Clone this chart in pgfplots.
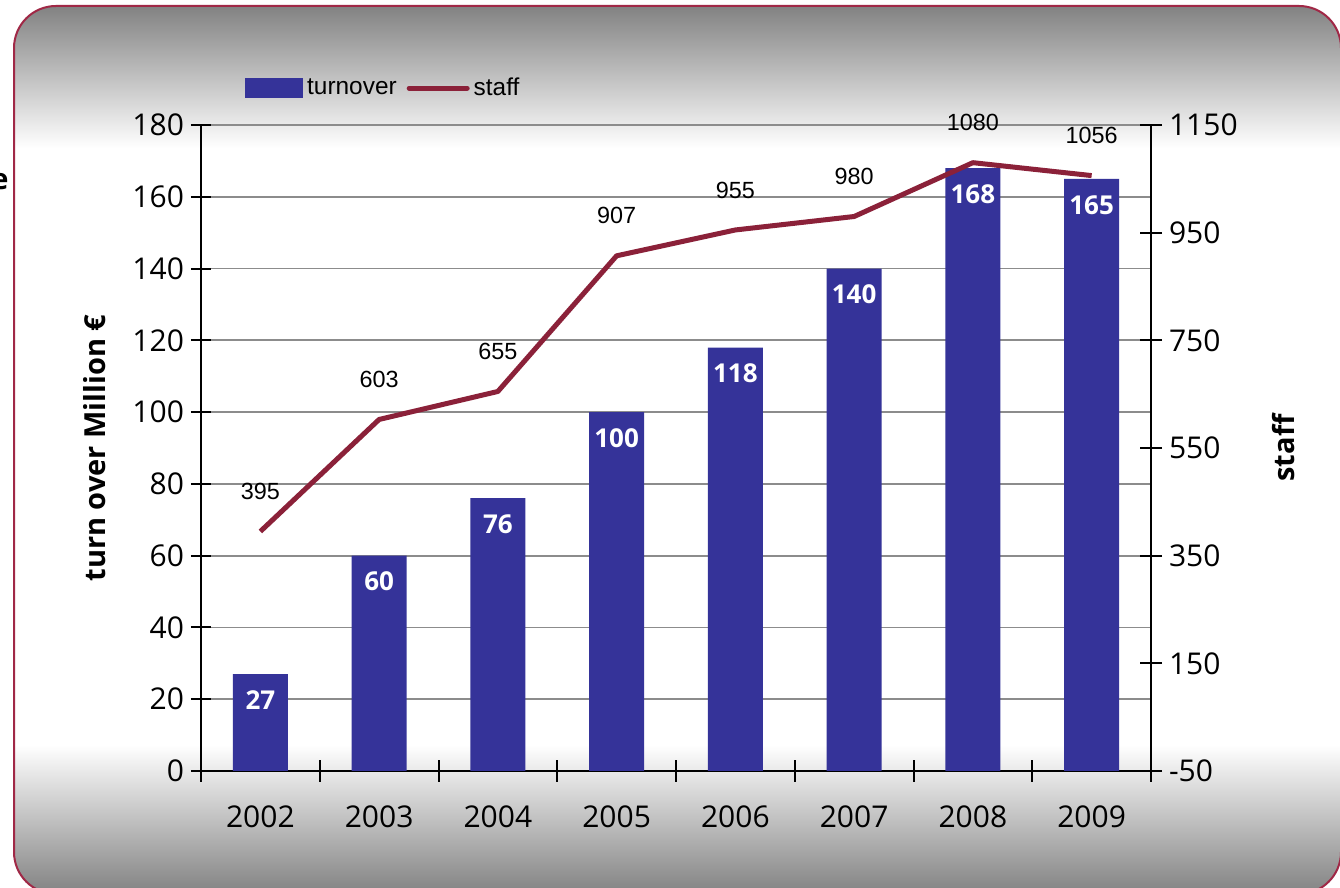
\documentclass[border=0pt]{standalone}
\usepackage{fontspec}
\setmainfont{Open Sans}
\newfontfamily\arialf{Liberation Sans}
\usepackage{pgfplots}
\pgfplotsset{compat=1.18}

\definecolor{barblue}{RGB}{53,51,153}
\definecolor{staffred}{RGB}{139,33,57}
\definecolor{framered}{RGB}{160,40,70}
\definecolor{bggray}{RGB}{130,130,130}
\definecolor{gridgray}{RGB}{140,140,140}

% gray at top and bottom, white in the middle
\pgfdeclareverticalshading{panel}{100bp}{color(0bp)=(bggray); color(25bp)=(bggray); color(33.4bp)=(white); color(67bp)=(white); color(75bp)=(bggray); color(100bp)=(bggray)}

\pgfplotsset{
  /pgf/number format/assume math mode=true,
  /pgf/number format/1000 sep={},
}

\begin{document}
\begin{tikzpicture}
\clip (0pt,0pt) rectangle (670pt,444pt);
\shade[shading=panel, rounded corners=21pt] (7pt,-3pt) rectangle (670.5pt,441pt);
\draw[framered, line width=1pt, rounded corners=21pt] (7pt,-3pt) rectangle (670.5pt,441pt);
% cut-off remnant of a label at the left edge
\node[anchor=base east, inner sep=0pt, font=\bfseries\fontsize{14.5}{17}\selectfont] at (4.5pt,349pt) {e};

% turnover (left axis)
\begin{axis}[
  at={(100.5pt,58.5pt)}, anchor=south west,
  scale only axis, width=475pt, height=323pt,
  xmin=-0.5, xmax=7.5, ymin=0, ymax=180,
  axis y line*=left, axis x line*=bottom,
  axis line style={black, line width=1pt},
  xtick={0,...,7},
  xticklabels={2002,2003,2004,2005,2006,2007,2008,2009},
  every major x tick/.append style={draw=none},
  minor xtick={-0.5,0.5,...,7.5},
  ytick={0,20,...,180},
  tick align=center,
  major tick length=10pt, minor tick length=11pt,
  tick style={black, line width=1pt},
  ymajorgrids,
  major grid style={draw=gridgray, line width=0.9pt},
  tick label style={font=\fontsize{15}{18}\selectfont},
  xticklabel style={yshift=-9pt},
  ylabel={turn over Million €},
  ylabel style={at={(axis description cs:-0.112,0.5)}, anchor=center,
    font=\bfseries\fontsize{14.5}{17}\selectfont},
]
\addplot[ybar, bar width=27.5pt, fill=barblue, draw=none,
  nodes near coords,
  every node near coord/.append style={anchor=center, yshift=-13pt,
    text=white, font=\bfseries\fontsize{13}{15}\selectfont}]
  coordinates {(0,27) (1,60) (2,76) (3,100) (4,118) (5,140) (6,168) (7,165)};
\end{axis}

% staff (right axis)
\begin{axis}[
  at={(100.5pt,58.5pt)}, anchor=south west,
  scale only axis, width=475pt, height=323pt,
  xmin=-0.5, xmax=7.5, ymin=-50, ymax=1150,
  axis y line*=right, axis x line=none,
  axis line style={black, line width=1pt},
  ytick={-50,150,...,1150},
  tick align=center, major tick length=11pt,
  tick style={black, line width=1pt},
  tick label style={font=\fontsize{15}{18}\selectfont},
  ylabel={staff},
  ylabel style={at={(axis description cs:1.139,0.5)}, anchor=center,
    font=\bfseries\fontsize{14.5}{17}\selectfont},
  legend style={at={(0.040,1.057)}, anchor=west, draw=none, fill=none,
    font=\arialf\fontsize{12.2}{14}\selectfont,
    /tikz/every even column/.append style={column sep=3pt}},
  legend columns=2, legend cell align=left,
]
\addlegendimage{legend image code/.code={\fill[barblue] (0pt,-4.75pt) rectangle (28.5pt,4.75pt);}}
\addlegendentry{turnover}
\addplot[staffred, line width=2.5pt, line join=round,
  legend image code/.code={\draw[staffred, line width=2.5pt, line cap=round] (0pt,0pt) -- (29pt,0pt);},
  nodes near coords,
  every node near coord/.append style={anchor=center, yshift=20pt,
    text=black, font=\arialf\fontsize{11.7}{14}\selectfont}]
  coordinates {(0,395) (1,603) (2,655) (3,907) (4,955) (5,980) (6,1080) (7,1056)};
\addlegendentry{staff}
\end{axis}
\end{tikzpicture}
\end{document}
